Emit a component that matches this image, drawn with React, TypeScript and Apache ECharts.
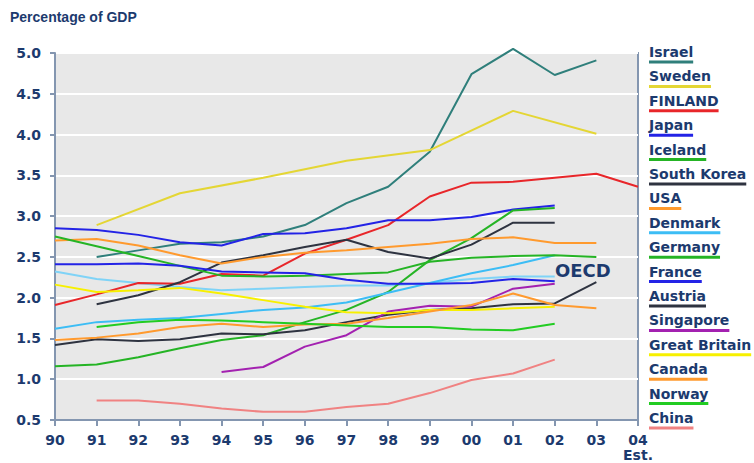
import React, { useEffect, useRef } from "react";
import * as echarts from "echarts";

const years = ["90", "91", "92", "93", "94", "95", "96", "97", "98", "99", "00", "01", "02", "03", "04\nEst."];

const israel = [null, 2.5, 2.58, 2.66, 2.68, 2.75, 2.89, 3.16, 3.36, 3.79, 4.74, 5.05, 4.73, 4.91, null];
const sweden = [null, 2.89, null, 3.28, null, 3.47, null, 3.68, null, 3.81, null, 4.29, null, 4.01, null];
const finland = [1.91, 2.04, 2.18, 2.17, 2.29, 2.27, 2.54, 2.71, 2.89, 3.24, 3.41, 3.42, 3.47, 3.52, 3.36];
const japan = [2.85, 2.83, 2.77, 2.68, 2.64, 2.78, 2.79, 2.85, 2.95, 2.95, 2.99, 3.08, 3.13, null, null];
const iceland = [1.16, 1.18, 1.27, 1.38, 1.48, 1.54, 1.7, 1.85, 2.07, 2.46, 2.73, 3.07, 3.1, null, null];
const southKorea = [null, 1.92, 2.03, 2.19, 2.43, 2.52, 2.62, 2.71, 2.56, 2.48, 2.65, 2.92, 2.92, null, null];
const usa = [2.7, 2.72, 2.64, 2.52, 2.42, 2.5, 2.55, 2.58, 2.62, 2.66, 2.72, 2.74, 2.67, 2.67, null];
const denmark = [1.62, 1.7, 1.73, 1.75, 1.8, 1.85, 1.88, 1.94, 2.06, 2.18, 2.3, 2.4, 2.52, null, null];
const germany = [2.75, 2.63, 2.51, 2.39, 2.27, 2.26, 2.27, 2.29, 2.31, 2.44, 2.49, 2.51, 2.52, 2.5, null];
const france = [2.41, 2.41, 2.42, 2.39, 2.32, 2.31, 2.3, 2.22, 2.17, 2.17, 2.18, 2.23, 2.2, null, null];
const austria = [1.42, 1.49, 1.47, 1.49, 1.56, 1.55, 1.6, 1.7, 1.79, 1.85, 1.87, 1.92, 1.93, 2.19, null];
const singapore = [null, null, null, null, 1.09, 1.15, 1.4, 1.54, 1.83, 1.9, 1.89, 2.11, 2.17, null, null];
const greatBritain = [2.16, 2.07, 2.09, 2.12, 2.05, 1.97, 1.89, 1.82, 1.81, 1.85, 1.85, 1.87, 1.89, null, null];
const canada = [1.48, 1.51, 1.56, 1.64, 1.68, 1.64, 1.67, 1.68, 1.75, 1.83, 1.91, 2.05, 1.91, 1.87, null];
const norway = [null, 1.64, 1.7, 1.73, 1.72, 1.7, 1.68, 1.66, 1.64, 1.64, 1.61, 1.6, 1.68, null, null];
const china = [null, 0.74, 0.74, 0.7, 0.64, 0.6, 0.6, 0.66, 0.7, 0.83, 0.99, 1.07, 1.24, null, null];
const oecd = [2.32, 2.23, 2.18, 2.13, 2.09, 2.11, 2.13, 2.15, 2.15, 2.18, 2.23, 2.26, 2.26, null, null];

const countryNames = [
  "Israel", "Sweden", "FINLAND", "Japan", "Iceland", "South Korea", "USA", "Denmark",
  "Germany", "France", "Austria", "Singapore", "Great Britain", "Canada", "Norway", "China",
];
const countryData = [
  israel, sweden, finland, japan, iceland, southKorea, usa, denmark,
  germany, france, austria, singapore, greatBritain, canada, norway, china,
];
const countryColors = [
  "#2f7f7b", "#e4d634", "#e8262a", "#2323e6", "#25b425", "#2e3340", "#ff9a2e", "#3cbdf5",
  "#25b425", "#2323e6", "#2e3340", "#a321b0", "#f7f000", "#ff9a2e", "#22cc22", "#f08282",
];
const oecdColor = "#7fd3f7";

const TEXT = "#1c3a6e";
const AXIS = "#8496b0";
const LEGEND_FONT = "bold 14px 'DejaVu Sans'";

export default function App() {
  const ref = useRef<HTMLDivElement>(null);
  useEffect(() => {
    if (!ref.current) return;
    const chart = echarts.init(ref.current, undefined, { renderer: "svg" });
    const ctx = document.createElement("canvas").getContext("2d")!;
    ctx.font = LEGEND_FONT;

    const series: any[] = [
      {
        name: "OECD",
        type: "line",
        data: oecd,
        symbol: "none",
        clip: false,
        lineStyle: { color: oecdColor, width: 2 },
        itemStyle: { color: oecdColor },
        connectNulls: true,
        silent: true,
      },
    ];
    countryNames.forEach((n, i) => {
      series.push({
        name: n,
        type: "line",
        data: countryData[i],
        symbol: "none",
        clip: false,
        connectNulls: true,
        lineStyle: { color: countryColors[i], width: 2 },
        itemStyle: { color: countryColors[i] },
        silent: true,
      });
    });

    const graphic: any[] = [
      {
        type: "text",
        x: 10,
        y: 17,
        style: {
          text: "Percentage of GDP",
          fill: TEXT,
          font: "bold 14px 'Liberation Sans', Arial, sans-serif",
          verticalAlign: "middle",
          align: "left",
        },
      },
      {
        type: "text",
        x: 555,
        y: 270,
        style: {
          text: "OECD",
          fill: TEXT,
          font: "bold 18px 'DejaVu Sans'",
          verticalAlign: "middle",
          align: "left",
        },
      },
    ];
    countryNames.forEach((n, i) => {
      const cy = 52 + i * 24.4;
      const w = ctx.measureText(n).width;
      graphic.push({
        type: "text",
        x: 649,
        y: cy,
        style: { text: n, fill: TEXT, font: LEGEND_FONT, verticalAlign: "middle", align: "left" },
      });
      graphic.push({
        type: "rect",
        shape: { x: 649, y: cy + 8.5, width: w, height: 3 },
        style: { fill: countryColors[i] },
      });
    });

    chart.setOption({
      animation: false,
      backgroundColor: "#ffffff",
      grid: {
        left: 55,
        right: 116,
        top: 53,
        bottom: 43,
        show: true,
        backgroundColor: "#e8e8e8",
        borderColor: AXIS,
        borderWidth: 2,
      },
      xAxis: {
        type: "category",
        data: years,
        boundaryGap: false,
        axisLine: { show: true, lineStyle: { color: AXIS, width: 2 } },
        axisTick: { show: true, length: 6, lineStyle: { color: AXIS, width: 2 } },
        axisLabel: {
          color: TEXT,
          fontFamily: "DejaVu Sans",
          fontWeight: "bold",
          fontSize: 14,
          lineHeight: 15,
          margin: 12,
          verticalAlign: "top",
        },
        splitLine: { show: false },
      },
      yAxis: {
        type: "value",
        min: 0.5,
        max: 5,
        interval: 0.5,
        axisLine: { show: true, lineStyle: { color: AXIS, width: 2 } },
        axisTick: { show: true, length: 5, lineStyle: { color: AXIS, width: 2 } },
        axisLabel: {
          color: TEXT,
          fontFamily: "DejaVu Sans",
          fontWeight: "bold",
          fontSize: 14,
          margin: 14,
          formatter: (v: number) => v.toFixed(1),
        },
        splitLine: { show: true, lineStyle: { color: "#ffffff", width: 2 } },
      },
      series,
      graphic,
    });
    return () => chart.dispose();
  }, []);
  return (
    <div
      ref={ref}
      style={{ position: "absolute", left: 0, top: 0, width: 754, height: 463 }}
    />
  );
}
